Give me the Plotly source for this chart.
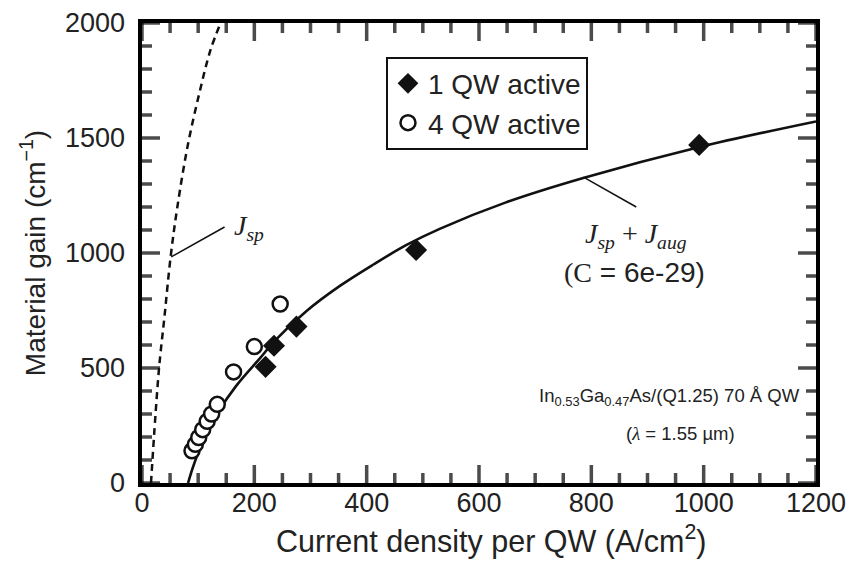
import plotly.graph_objects as go

# ---- data ----
j_1qw = [220, 235, 275, 488, 992]
g_1qw = [505, 597, 680, 1013, 1470]

j_4qw = [89, 95, 101, 108, 116, 124, 134, 163, 200, 246]
g_4qw = [140, 168, 198, 232, 268, 300, 342, 483, 593, 778]

j_fit = [82, 93, 119, 167, 211, 235, 294, 353, 412, 471, 530, 648, 784, 991, 1200]
g_fit = [0, 85, 240, 420, 545, 615, 750, 858, 950, 1035, 1105, 1220, 1325, 1460, 1572]

j_sp = [16, 30, 40, 51, 63, 81, 102, 122, 140]
g_sp = [0, 490, 723, 984, 1201, 1462, 1694, 1883, 2000]

x_range = [0, 1200]
y_range = [0, 2000]
x_major = [0, 200, 400, 600, 800, 1000, 1200]
y_major = [0, 500, 1000, 1500, 2000]
x_minor = [v for v in range(0, 1201, 50) if v not in x_major]
y_minor = [v for v in range(0, 2001, 100) if v not in y_major]

INK = "#111111"
TXT = "#222222"
SANS = "Liberation Sans, Arial, Helvetica, sans-serif"
SERIF = "Liberation Serif, Times New Roman, serif"

# plot area in pixels (used to turn tick lengths in px into axis units)
W, H = 851, 563
ML, MR, MT, MB = 142, 35, 23, 80
px_x = (x_range[1] - x_range[0]) / (W - ML - MR)
px_y = (y_range[1] - y_range[0]) / (H - MT - MB)
MAJ, MIN = 18, 10

# inside tick marks drawn as line-shaped markers centred half a tick inside the frame
tk_x, tk_y, tk_sym, tk_size = [], [], [], []
for v, ln in [(v, MAJ) for v in x_major] + [(v, MIN) for v in x_minor]:
    for yy in (y_range[0] + ln / 2 * px_y, y_range[1] - ln / 2 * px_y):
        tk_x.append(v); tk_y.append(yy)
        tk_sym.append("line-ns"); tk_size.append(ln / 1.4)
for v, ln in [(v, MAJ) for v in y_major] + [(v, MIN) for v in y_minor]:
    for xx in (x_range[0] + ln / 2 * px_x, x_range[1] - ln / 2 * px_x):
        tk_x.append(xx); tk_y.append(v)
        tk_sym.append("line-ew"); tk_size.append(ln / 1.4)

fig = go.Figure()
fig.add_trace(go.Scatter(x=tk_x, y=tk_y, mode="markers", showlegend=False,
                         hoverinfo="skip", cliponaxis=False,
                         marker=dict(symbol=tk_sym, size=tk_size, color="#000000",
                                     line=dict(width=3.5, color="#000000"))))
fig.add_trace(go.Scatter(x=j_sp, y=g_sp, mode="lines", showlegend=False,
                         line=dict(color=INK, width=2.5, dash="7px,5px", shape="spline"),
                         hoverinfo="skip"))
fig.add_trace(go.Scatter(x=j_fit, y=g_fit, mode="lines", showlegend=False,
                         line=dict(color=INK, width=2.6, shape="spline"),
                         hoverinfo="skip"))
fig.add_trace(go.Scatter(x=j_1qw, y=g_1qw, mode="markers", name="1 QW active",
                         marker=dict(symbol="diamond", size=17, color=INK,
                                     line=dict(width=0))))
fig.add_trace(go.Scatter(x=j_4qw, y=g_4qw, mode="markers", name="4 QW active",
                         marker=dict(symbol="circle", size=15, color="white",
                                     line=dict(width=2.5, color=INK))))

axis_common = dict(
    showgrid=False, zeroline=False, showline=True, linewidth=4, linecolor="#000000",
    mirror=True, ticks="", tickfont=dict(family=SANS, size=27, color=TXT),
    automargin=False,
)

fig.update_layout(
    xaxis=dict(range=x_range, tickmode="array", tickvals=x_major,
               ticktext=[str(v) for v in x_major], ticklabelstandoff=-7,
               **axis_common),
    yaxis=dict(range=y_range, tickmode="array", tickvals=y_major,
               ticktext=[str(v) + "\u00a0" for v in y_major],
               title=dict(text="Material gain (cm<sup>\u22121</sup>)",
                          font=dict(family=SANS, size=28, color=TXT), standoff=12),
               **axis_common),
)

# leader lines of the curve labels
shapes = [
    dict(type="line", xref="x", yref="y", x0=52, y0=983, x1=147, y1=1113,
         line=dict(color=INK, width=1.5)),
    dict(type="line", xref="x", yref="y", x0=786, y0=1330, x1=880, y1=1200,
         line=dict(color=INK, width=1.5)),
]

ann_font = dict(family=SERIF, size=28, color=TXT)
annotations = [
    dict(x=0.518, y=-0.122, xref="paper", yref="paper",
         text="Current density per QW (A/cm<sup>2</sup>)", showarrow=False,
         xanchor="center", yanchor="middle",
         font=dict(family=SANS, size=30.5, color=TXT)),
    dict(x=161, y=1113, xref="x", yref="y", text="<i>J<sub>sp</sub></i>",
         showarrow=False, xanchor="left", yanchor="middle", font=ann_font),
    dict(x=880, y=1078, xref="x", yref="y",
         text="<i>J<sub>sp</sub></i> + <i>J<sub>aug</sub></i>",
         showarrow=False, xanchor="center", yanchor="middle", font=ann_font),
    dict(x=877, y=917, xref="x", yref="y",
         text="(C<span style=\"font-family:Liberation Sans, Arial, sans-serif\"> = 6e-29)</span>",
         showarrow=False, xanchor="center", yanchor="middle", font=ann_font),
    dict(x=1175, y=374, xref="x", yref="y",
         text="In<sub>0.53</sub>Ga<sub>0.47</sub>As/(Q1.25) 70 \u00c5 QW",
         showarrow=False, xanchor="right", yanchor="middle",
         font=dict(family=SANS, size=18.5, color=TXT)),
    dict(x=959, y=217, xref="x", yref="y",
         text="(<span style=\"font-family:Liberation Serif, Times New Roman, serif\"><i>\u03bb</i></span> = 1.55 \u00b5m)",
         showarrow=False, xanchor="center", yanchor="middle",
         font=dict(family=SANS, size=18.5, color=TXT)),
]

fig.update_layout(
    width=W, height=H,
    margin=dict(l=ML, r=MR, t=MT, b=MB, autoexpand=False),
    plot_bgcolor="white", paper_bgcolor="white",
    font=dict(family=SANS, color=TXT),
    annotations=annotations, shapes=shapes,
    legend=dict(x=0.362, y=0.927, xanchor="left", yanchor="top",
                bgcolor="white", bordercolor=INK, borderwidth=2,
                font=dict(family=SANS, size=28, color=TXT),
                itemsizing="trace", tracegroupgap=0),
)

fig.write_html("out.html", config={"displayModeBar": False},
               post_script="document.body.style.margin='0';")
